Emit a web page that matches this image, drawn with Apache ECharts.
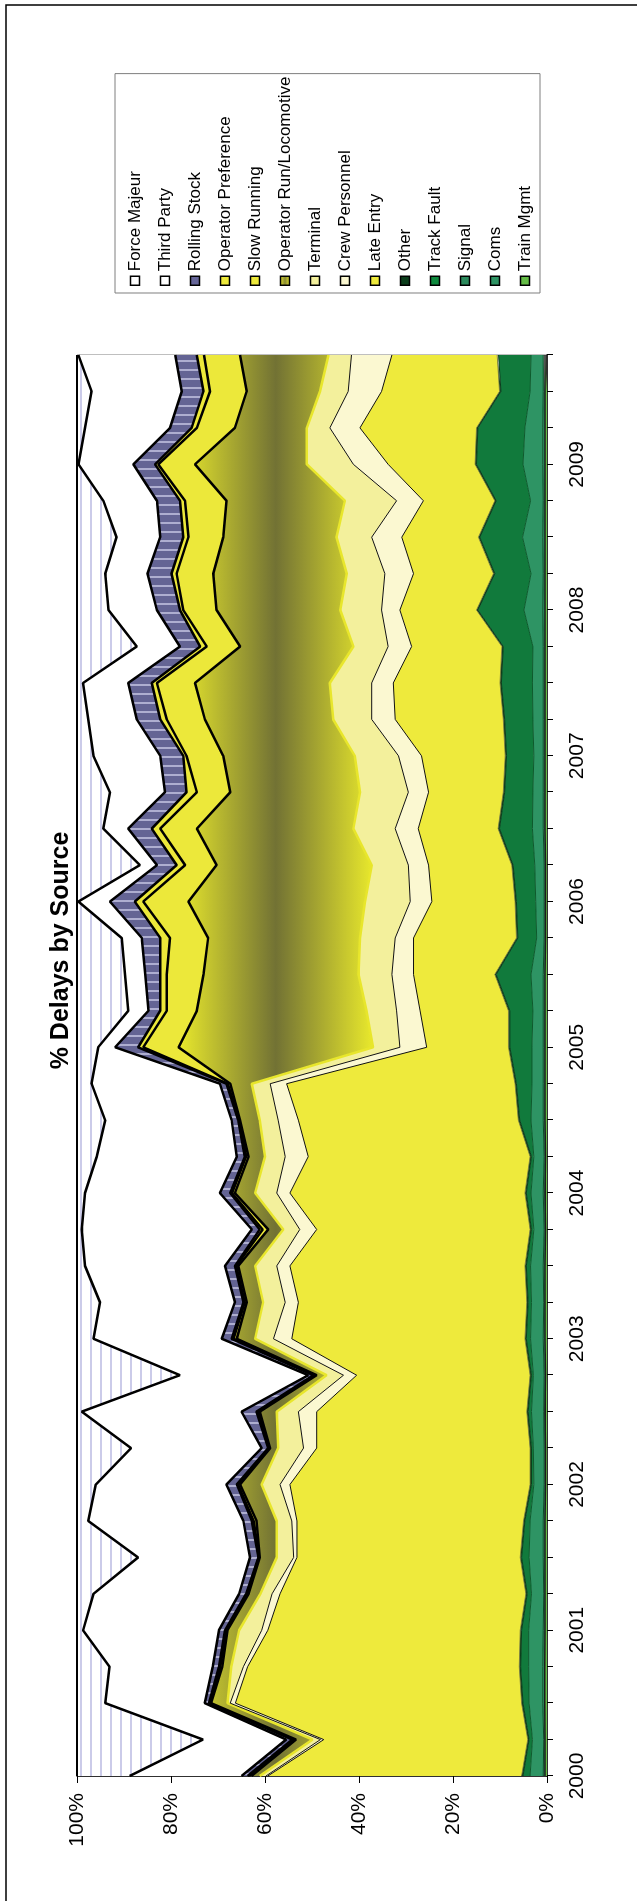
<!DOCTYPE html>
<html>
<head>
<meta charset="utf-8">
<script src="https://cdn.jsdelivr.net/npm/echarts/dist/echarts.min.js"></script>
<style>
  html, body { margin: 0; padding: 0; overflow: hidden; background: #fff; }
  #wrap { position: absolute; left: 0; top: 0; width: 1901px; height: 637px;
          transform-origin: 0 0; transform: translate(0, 1901px) rotate(-90deg); }
  #chart { width: 1901px; height: 637px; }
</style>
</head>
<body>
<div id="wrap"><div id="chart"></div></div>
<script>
// Quarterly categories, 2000 Q1 .. 2009 Q4
const categories = [
  '2000 Q1','2000 Q2','2000 Q3','2000 Q4','2001 Q1','2001 Q2','2001 Q3','2001 Q4',
  '2002 Q1','2002 Q2','2002 Q3','2002 Q4','2003 Q1','2003 Q2','2003 Q3','2003 Q4',
  '2004 Q1','2004 Q2','2004 Q3','2004 Q4','2005 Q1','2005 Q2','2005 Q3','2005 Q4',
  '2006 Q1','2006 Q2','2006 Q3','2006 Q4','2007 Q1','2007 Q2','2007 Q3','2007 Q4',
  '2008 Q1','2008 Q2','2008 Q3','2008 Q4','2009 Q1','2009 Q2','2009 Q3','2009 Q4'
];
const valueTicks = [0, 20, 40, 60, 80, 100];

// Delay share by source (per cent of all delays in the quarter)
const trainMgmt  = [0.4,0.4,0.5,0.5,0.4,0.4,0.4,0.4,0.3,0.3,0.4,0.3,0.4,0.4,0.4,0.3,0.4,0.3,0.4,0.4,0.4,0.4,0.4,0.3,0.3,0.3,0.4,0.4,0.4,0.4,0.4,0.4,0.4,0.4,0.4,0.4,0.4,0.4,0.4,0.4];
const coms       = [0.4,0.3,0.4,0.4,0.4,0.3,0.4,0.4,0.3,0.3,0.3,0.3,0.4,0.3,0.4,0.3,0.4,0.3,0.4,0.4,0.4,0.4,0.4,0.3,0.3,0.3,0.4,0.4,0.4,0.4,0.4,0.4,0.5,0.4,0.5,0.4,0.5,0.5,0.4,0.4];
const signal     = [2.8,2.4,2.9,3.0,3.1,2.6,3.0,2.8,2.2,2.3,2.6,2.3,2.7,2.6,2.7,2.2,2.6,2.2,2.6,2.4,2.4,2.2,2.6,1.6,1.8,2.0,2.3,2.2,2.0,2.2,2.3,2.2,4.0,2.6,4.3,2.7,4.2,3.8,2.8,2.6];
const trackFault = [1.5,0.7,1.3,1.7,1.5,0.9,1.6,1.1,0.5,0.4,0.7,0.4,0.9,0.7,0.9,0.5,1.0,0.5,2.4,3.3,4.7,4.9,7.4,4.0,4.1,4.6,7.0,6.0,5.8,6.0,6.6,6.3,9.8,7.7,9.1,7.3,9.9,10.0,6.2,6.9];
const other      = [0.3,0.3,0.3,0.3,0.3,0.3,0.3,0.3,0.3,0.3,0.3,0.3,0.3,0.3,0.3,0.3,0.3,0.3,0.3,0.3,0.3,0.3,0.3,0.3,0.3,0.3,0.3,0.3,0.3,0.3,0.3,0.3,0.3,0.3,0.3,0.3,0.3,0.3,0.3,0.3];
const lateEntry  = [54.0,43.4,60.9,57.8,53.7,52.3,47.5,48.2,51.1,45.4,44.7,36.9,49.6,48.6,50.0,45.4,50.0,47.2,46.8,48.6,17.4,18.8,17.3,21.9,17.7,17.7,17.0,15.9,17.8,23.0,22.7,19.2,16.3,17.0,16.3,15.2,18.5,24.8,25.1,22.4];
const crewPers   = [0.4,0.7,1.1,0.9,1.3,1.7,0.7,1.1,2.1,2.8,3.9,2.8,3.9,2.8,2.8,3.6,2.8,4.9,4.3,3.5,5.7,5.0,4.6,3.9,4.6,4.3,4.9,4.3,4.9,5.0,4.6,5.0,3.9,6.1,6.4,5.7,7.4,6.4,7.1,8.6];
const terminal   = [1.3,1.7,0.6,2.6,4.8,2.5,3.6,3.2,3.9,5.4,4.6,3.6,3.9,4.7,4.6,3.5,4.6,4.3,3.9,3.9,5.7,6.4,7.1,7.5,9.6,7.8,8.9,10.3,9.3,8.2,8.9,7.4,8.8,8.1,7.5,11.0,9.9,4.9,6.0,4.9];
const opRunLoco  = [1.8,3.5,3.5,1.9,2.5,2.5,3.6,4.3,4.6,1.7,3.6,2.1,3.9,3.5,3.6,3.2,4.3,3.5,4.2,4.6,41.4,36.1,33.0,32.3,37.6,33.0,33.3,27.6,28.0,27.3,28.7,24.1,26.3,28.4,24.1,25.2,23.8,15.3,15.6,18.8];
const slowRun    = [0.5,0.5,0.2,0.4,0.3,0.3,0.2,0.6,0.4,0.2,0.4,0.4,0.7,0.4,0.4,1.2,0.6,0.5,0.2,0.5,7.5,6.4,7.8,8.1,9.6,6.7,7.8,7.1,7.8,8.1,8.1,7.1,7.1,7.8,7.4,8.8,7.8,8.1,7.8,7.7];
const opPref     = [0.3,0.3,0.2,0.3,0.2,0.2,0.1,0.4,0.3,0.2,0.3,0.3,0.4,0.3,0.3,0.6,0.4,0.3,0.2,0.3,1.1,1.4,1.4,2.1,1.8,1.8,1.8,2.2,0.7,1.4,1.1,1.4,0.7,1.1,1.1,1.1,0.7,1.1,1.4,1.5];
const rolling    = [1.3,1.3,0.9,1.3,1.3,1.5,1.8,1.8,2.2,1.4,3.2,1.1,2.1,1.8,2.1,1.7,2.2,1.7,1.4,1.4,4.9,2.5,3.2,3.9,5.3,4.2,5.0,4.6,4.9,5.0,5.0,4.3,4.9,5.1,4.9,4.9,4.6,4.6,4.6,4.6];
const thirdParty = [23.8,17.7,21.2,22.0,28.9,31.0,23.8,33.0,27.8,27.8,34.0,27.3,27.3,28.7,29.8,36.2,28.7,29.8,26.9,27.3,3.6,4.3,4.3,4.3,6.7,3.6,5.3,11.7,14.2,10.3,9.6,9.2,10.3,9.0,9.3,11.4,11.7,18.1,19.2,20.6];
const forceMaj   = [11.2,26.8,6.0,6.9,1.3,3.5,13.0,2.4,4.0,11.5,1.0,21.9,3.5,4.9,1.7,1.0,1.7,4.2,6.0,3.1,4.5,10.9,10.2,9.5,0.3,13.4,5.6,7.0,3.5,2.4,1.3,12.7,6.7,6.0,8.4,5.6,0.3,1.7,3.1,0.3];

// Stack order, bottom (0%) to top (100%)
const stackOrder = [
  ['Train Mgmt', trainMgmt], ['Coms', coms], ['Signal', signal], ['Track Fault', trackFault],
  ['Other', other], ['Late Entry', lateEntry], ['Crew Personnel', crewPers], ['Terminal', terminal],
  ['Operator Run/Locomotive', opRunLoco], ['Slow Running', slowRun], ['Operator Preference', opPref],
  ['Rolling Stock', rolling], ['Third Party', thirdParty], ['Force Majeur', forceMaj]
];

// 100% stacking: each quarter scaled to its own total
const totals = categories.map((_, i) => stackOrder.reduce((s, [, arr]) => s + arr[i], 0));
const pct = arr => arr.map((v, i) => v / totals[i] * 100);

// Fill patterns
function stripePattern(w, h, bg, fg, rect) {
  const c = document.createElement('canvas');
  c.width = w; c.height = h;
  const g = c.getContext('2d');
  g.fillStyle = bg; g.fillRect(0, 0, w, h);
  g.fillStyle = fg; g.fillRect(rect[0], rect[1], rect[2], rect[3]);
  return c;
}
const fmPattern = { image: stripePattern(4, 10, '#ffffff', '#cbcbe9', [0, 0, 4, 2]), repeat: 'repeat' };
const rsPattern = { image: stripePattern(9, 4, '#646494', '#aeaed0', [0, 0, 2, 4]), repeat: 'repeat' };
const oliveFade = new echarts.graphic.LinearGradient(0, 0, 0, 1, [
  { offset: 0, color: '#e9e92c' },
  { offset: 0.5, color: '#727234' },
  { offset: 1, color: '#e9e92c' }
]);
const oliveSwatch = new echarts.graphic.LinearGradient(0, 0, 0, 1, [
  { offset: 0, color: '#e9e92c' },
  { offset: 0.5, color: '#8a8a34' },
  { offset: 1, color: '#e9e92c' }
]);

// Per-series look: area fill, top-edge line, legend swatch
const looks = {
  'Train Mgmt':              { area: '#64bc46', line: ['#1b1b1b', 1.5], swatch: '#64bc46' },
  'Coms':                    { area: '#2f9666', line: ['#0c4a26', 1],   swatch: '#2e9464' },
  'Signal':                  { area: '#2e9464', line: ['#0d5a2c', 1],   swatch: '#2b8a5c' },
  'Track Fault':             { area: '#117a3c', line: ['#0b3d1c', 1],   swatch: '#0f8a3e' },
  'Other':                   { area: '#0b3d1b', line: ['#7a7a36', 0.8], swatch: '#0b3d1b' },
  'Late Entry':              { area: '#eeea3c', line: ['#111111', 1],   swatch: '#eeea3c' },
  'Crew Personnel':          { area: '#fbf8d1', line: ['#111111', 1],   swatch: '#fbf8d1' },
  'Terminal':                { area: '#f3f09c', line: ['#e8e62c', 2.5], swatch: '#f3f09c' },
  'Operator Run/Locomotive': { area: oliveFade, line: ['#000000', 2.5], swatch: oliveSwatch },
  'Slow Running':            { area: '#ece83a', line: ['#000000', 2.5], swatch: '#ece83a' },
  'Operator Preference':     { area: '#ece83a', line: ['#000000', 2.5], swatch: '#ece83a' },
  'Rolling Stock':           { area: rsPattern, line: ['#000000', 2.5], swatch: '#666699' },
  'Third Party':             { area: '#ffffff', line: ['#000000', 2.5], swatch: '#ffffff' },
  'Force Majeur':            { area: fmPattern, line: ['#000000', 2],   swatch: '#ffffff' }
};

const legendOrder = stackOrder.map(s => s[0]).reverse();
const FONT = "'Liberation Sans', Arial, sans-serif";

const series = stackOrder.map(([name, arr], k) => ({
  name,
  type: 'line',
  stack: 'share',
  data: pct(arr),
  symbol: 'none',
  showSymbol: false,
  z: 40 - k,
  areaStyle: { color: looks[name].area, opacity: 1 },
  lineStyle: { color: looks[name].line[0], width: looks[name].line[1] },
  itemStyle: { color: typeof looks[name].swatch === 'string' ? looks[name].swatch : '#b0b03a' },
  emphasis: { disabled: true },
  silent: true
}));

const chart = echarts.init(document.getElementById('chart'), null, { renderer: 'canvas', width: 1901, height: 637 });
chart.setOption({
  animation: false,
  backgroundColor: '#ffffff',
  title: {
    text: '% Delays by Source',
    left: 'center',
    top: 44,
    textStyle: { fontFamily: FONT, fontSize: 25, fontWeight: 'bold', color: '#000' }
  },
  legend: {
    orient: 'vertical',
    left: 1608,
    top: 115,
    padding: [11, 3, 6, 7],
    borderColor: '#7f7f7f',
    borderWidth: 1,
    icon: 'rect',
    itemWidth: 9,
    itemHeight: 9,
    itemGap: 12,
    selectedMode: false,
    textStyle: { fontFamily: FONT, fontSize: 17, color: '#000', lineHeight: 18 },
    data: legendOrder.map(n => ({
      name: n,
      itemStyle: { color: looks[n].swatch, borderColor: '#000', borderWidth: 1.5 }
    }))
  },
  grid: {
    left: 125, right: 355, top: 77, bottom: 90,
    show: true, borderColor: '#808080', borderWidth: 1, backgroundColor: 'transparent'
  },
  xAxis: {
    type: 'category',
    data: categories,
    boundaryGap: false,
    axisLine: { lineStyle: { color: '#000', width: 1.5 } },
    axisTick: { show: true, interval: 0, length: 6, lineStyle: { color: '#000' } },
    axisLabel: {
      interval: 3, margin: 20, color: '#000', fontFamily: FONT, fontSize: 21,
      formatter: v => v.slice(0, 4)
    },
    splitLine: { show: false }
  },
  yAxis: {
    type: 'value',
    min: valueTicks[0],
    max: valueTicks[valueTicks.length - 1],
    interval: 20,
    axisLine: { show: true, lineStyle: { color: '#000', width: 1.5 } },
    axisTick: { show: true, length: 7, lineStyle: { color: '#000' } },
    axisLabel: { margin: 17, color: '#000', fontFamily: FONT, fontSize: 21, formatter: '{value}%' },
    splitLine: { show: false }
  },
  graphic: [{
    type: 'rect',
    shape: { x: -20, y: 6, width: 1916, height: 700 },
    style: { fill: 'none', stroke: '#000', lineWidth: 1.5 },
    silent: true, z: 100
  }],
  series
});
</script>
</body>
</html>
